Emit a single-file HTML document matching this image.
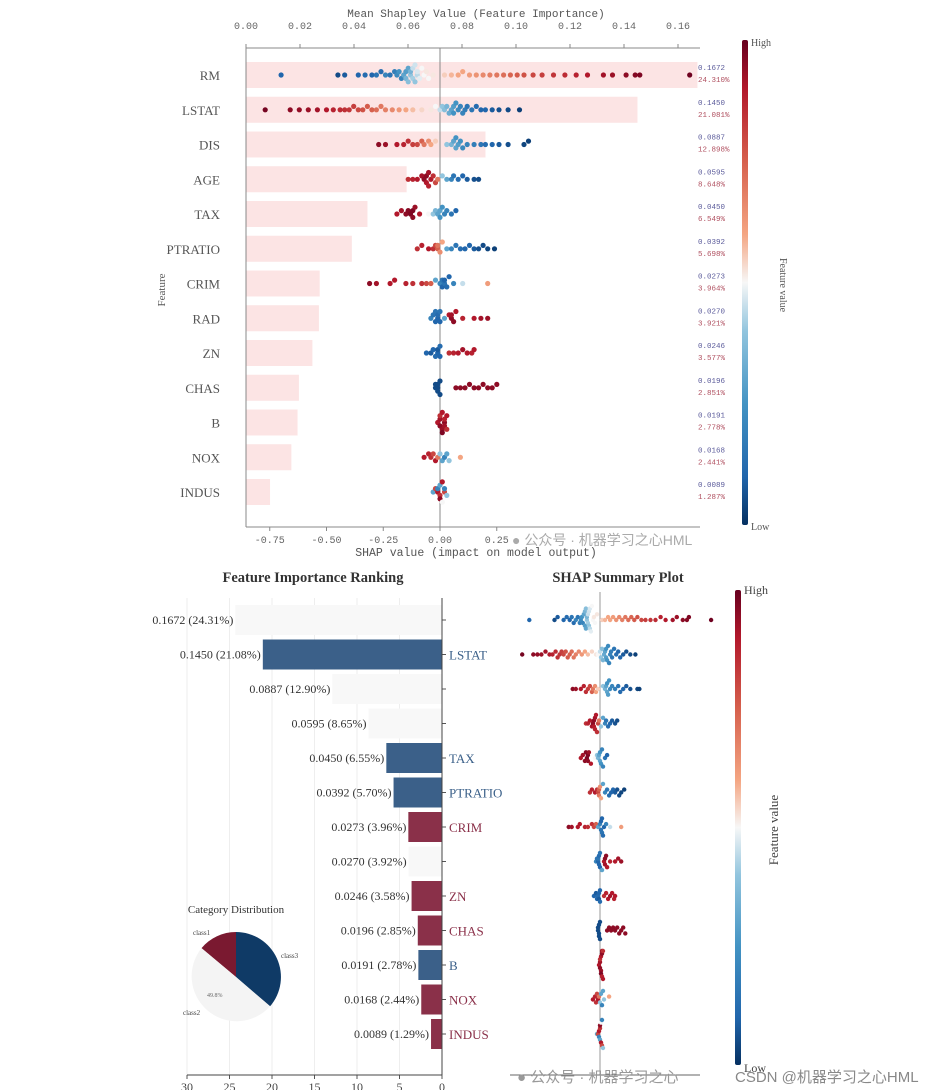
<!DOCTYPE html>
<html><head><meta charset="utf-8"><style>
html,body{margin:0;padding:0;background:#fff;}
svg{display:block;}
</style></head><body>
<svg id="c" width="931" height="1090" viewBox="0 0 931 1090" xmlns="http://www.w3.org/2000/svg">
<defs>
<linearGradient id="cb" x1="0" y1="0" x2="0" y2="1">
<stop offset="0" stop-color="#67001f"/><stop offset="0.1" stop-color="#b2182b"/><stop offset="0.25" stop-color="#d6604d"/><stop offset="0.4" stop-color="#f4a582"/><stop offset="0.5" stop-color="#f7f7f7"/><stop offset="0.6" stop-color="#92c5de"/><stop offset="0.75" stop-color="#4393c3"/><stop offset="0.9" stop-color="#2166ac"/><stop offset="1" stop-color="#053061"/>
</linearGradient>
</defs>
</svg>
<script>
const features = ["RM","LSTAT","DIS","AGE","TAX","PTRATIO","CRIM","RAD","ZN","CHAS","B","NOX","INDUS"];
const importance = [0.1672,0.1450,0.0887,0.0595,0.0450,0.0392,0.0273,0.0270,0.0246,0.0196,0.0191,0.0168,0.0089];
const percents = [24.31,21.08,12.90,8.65,6.55,5.70,3.96,3.92,3.58,2.85,2.78,2.44,1.29];
const pctLong = ["24.310%","21.081%","12.898%","8.648%","6.549%","5.698%","3.964%","3.921%","3.577%","2.851%","2.778%","2.441%","1.287%"];
const barColorClass = ["faint","blue","faint","faint","blue","blue","red","faint","red","red","blue","red","red"];
const topTicks = [0,0.02,0.04,0.06,0.08,0.10,0.12,0.14,0.16];
const shapTicks = [-0.75,-0.5,-0.25,0,0.25];
const rankTicks = [30,25,20,15,10,5,0];
const pieLabels = ["class1","class3","class2"];
const pieValues = [13.9,36.3,49.8];
const rmPts=[[-0.70,.1],[-0.45,.05],[-0.42,.08],[-0.36,.1],[-0.33,.12],[-0.3,.1],[-0.28,.15],[-0.26,.12],[-0.24,.2],[-0.22,.15],[-0.2,.18],[-0.19,.22],[-0.18,.25],[-0.17,.2],[-0.16,.3],[-0.15,.28],[-0.15,.35],[-0.14,.3],[-0.14,.38],[-0.13,.4],[-0.13,.35],[-0.12,.42],[-0.12,.45],[-0.11,.4],[-0.11,.46],[-0.1,.44],[-0.1,.47],[-0.09,.48],[-0.08,.5],[-0.07,.5],[-0.06,.52],[-0.05,.5],[-0.03,.52],[0.02,.55],[0.05,.58],[0.08,.6],[0.1,.6],[0.13,.62],[0.16,.64],[0.19,.66],[0.22,.68],[0.25,.7],[0.28,.72],[0.31,.74],[0.34,.76],[0.37,.78],[0.41,.8],[0.45,.82],[0.5,.84],[0.55,.86],[0.6,.88],[0.65,.9],[0.72,.92],[0.76,.93],[0.82,.95],[0.86,.96],[0.88,.97],[1.1,.99]];
const lstatPts=[[-0.77,.98],[-0.66,.95],[-0.62,.94],[-0.58,.93],[-0.54,.92],[-0.5,.9],[-0.47,.88],[-0.44,.86],[-0.42,.85],[-0.4,.84],[-0.38,.82],[-0.36,.8],[-0.34,.78],[-0.32,.76],[-0.3,.75],[-0.28,.72],[-0.26,.7],[-0.24,.68],[-0.21,.66],[-0.18,.63],[-0.15,.6],[-0.12,.57],[-0.08,.54],[-0.04,.52],[-0.02,.5],[0.0,.45],[0.01,.4],[0.02,.38],[0.03,.35],[0.04,.32],[0.05,.3],[0.06,.28],[0.06,.25],[0.07,.25],[0.08,.22],[0.09,.2],[0.1,.2],[0.11,.18],[0.12,.15],[0.14,.15],[0.16,.12],[0.18,.1],[0.2,.1],[0.23,.08],[0.26,.06],[0.3,.05],[0.35,.03]];
const disPts=[[-0.27,.95],[-0.24,.93],[-0.19,.9],[-0.16,.88],[-0.14,.85],[-0.12,.82],[-0.1,.8],[-0.08,.75],[-0.07,.7],[-0.05,.65],[-0.04,.6],[-0.02,.55],[0.03,.4],[0.05,.35],[0.06,.3],[0.07,.3],[0.07,.25],[0.08,.28],[0.09,.25],[0.1,.22],[0.12,.2],[0.15,.18],[0.18,.15],[0.2,.12],[0.23,.1],[0.26,.08],[0.3,.06],[0.37,.04],[0.39,.03]];
const agePts=[[-0.14,.85],[-0.12,.88],[-0.1,.9],[-0.08,.92],[-0.07,.95],[-0.06,.95],[-0.06,.9],[-0.05,.92],[-0.05,.88],[-0.04,.9],[-0.03,.85],[-0.02,.8],[-0.01,.7],[0.01,.4],[0.03,.3],[0.05,.2],[0.06,.15],[0.08,.12],[0.1,.1],[0.12,.08],[0.15,.06],[0.17,.05]];
const taxPts=[[-0.19,.9],[-0.17,.92],[-0.15,.95],[-0.14,.96],[-0.13,.97],[-0.12,.97],[-0.12,.95],[-0.11,.93],[-0.09,.9],[-0.05,.5],[-0.03,.4],[-0.02,.35],[-0.01,.3],[0.0,.3],[0.0,.25],[0.01,.25],[0.02,.2],[0.03,.2],[0.05,.15],[0.07,.1]];
const ptPts=[[-0.1,.85],[-0.08,.88],[-0.05,.9],[-0.03,.85],[-0.02,.8],[-0.01,.75],[-0.01,.7],[0.0,.65],[0.01,.6],[0.03,.3],[0.05,.2],[0.07,.15],[0.09,.12],[0.11,.1],[0.13,.1],[0.15,.08],[0.17,.06],[0.19,.05],[0.21,.04],[0.24,.03]];
const crimPts=[[-0.31,.95],[-0.28,.92],[-0.22,.9],[-0.2,.9],[-0.15,.88],[-0.12,.85],[-0.08,.85],[-0.06,.8],[-0.04,.75],[-0.02,.3],[0.0,.2],[0.01,.15],[0.01,.1],[0.02,.15],[0.02,.1],[0.03,.12],[0.04,.1],[0.06,.2],[0.1,.45],[0.21,.62]];
const radPts=[[-0.04,.2],[-0.03,.15],[-0.02,.1],[-0.02,.15],[-0.01,.1],[-0.01,.12],[0.0,.1],[0.0,.15],[0.02,.3],[0.04,.9],[0.05,.95],[0.05,.92],[0.06,.95],[0.07,.9],[0.1,.88],[0.15,.9],[0.18,.92],[0.21,.93]];
const znPts=[[-0.06,.1],[-0.04,.08],[-0.03,.1],[-0.02,.12],[-0.01,.1],[-0.01,.08],[0.0,.1],[0.0,.12],[0.04,.85],[0.06,.88],[0.08,.9],[0.1,.92],[0.12,.9],[0.14,.88],[0.15,.9]];
const chasPts=[[-0.02,.05],[-0.02,.05],[-0.01,.05],[-0.01,.05],[-0.01,.05],[0.0,.05],[0.0,.05],[0.07,.95],[0.09,.95],[0.11,.95],[0.13,.95],[0.15,.95],[0.17,.95],[0.19,.95],[0.21,.95],[0.23,.95],[0.25,.95]];
const bPts=[[-0.01,.9],[0.0,.92],[0.0,.95],[0.01,.93],[0.01,.9],[0.02,.95],[0.02,.88],[0.03,.9],[0.03,.85],[0.01,.97],[0.0,.85],[0.02,.92]];
const noxPts=[[-0.07,.9],[-0.05,.88],[-0.04,.85],[-0.03,.8],[-0.02,.9],[-0.01,.7],[0.0,.4],[0.01,.3],[0.02,.2],[0.03,.3],[0.04,.4],[0.09,.6]];
const indusPts=[[-0.03,.3],[-0.02,.8],[-0.01,.9],[-0.01,.2],[0.0,.85],[0.0,.3],[0.01,.9],[0.01,.5],[0.02,.8],[0.02,.2],[0.03,.4],[0.0,.95]];
const allPts=[rmPts,lstatPts,disPts,agePts,taxPts,ptPts,crimPts,radPts,znPts,chasPts,bPts,noxPts,indusPts];

const svg=document.getElementById('c');
const NS='http://www.w3.org/2000/svg';
function mk(tag,attrs,parent,txt){const e=document.createElementNS(NS,tag);for(const k in attrs)e.setAttribute(k,attrs[k]);if(txt!==undefined)e.textContent=txt;(parent||svg).appendChild(e);return e;}
const stops=[[0,[5,48,97]],[0.1,[33,102,172]],[0.25,[67,147,195]],[0.4,[146,197,222]],[0.5,[247,247,247]],[0.6,[244,165,130]],[0.75,[214,96,77]],[0.9,[178,24,43]],[1,[103,0,31]]];
function cmap(v){for(let i=1;i<stops.length;i++){if(v<=stops[i][0]){const a=stops[i-1],b=stops[i];const t=(v-a[0])/(b[0]-a[0]);const c=a[1].map((x,j)=>Math.round(x+(b[1][j]-x)*t));return 'rgb('+c.join(',')+')';}}return 'rgb(103,0,31)';}
function swarm(g,pts,xf,yc,r,name){
  const bins={};
  const sorted=pts.slice().sort((a,b)=>a[0]-b[0]);
  sorted.forEach(p=>{const x=xf(p[0]);const b=Math.round(x/(r*2.6));bins[b]=(bins[b]||0)+1;const k=bins[b]-1;const off=(k%2?-1:1)*Math.ceil(k/2)*r*1.3;
    const c=mk('circle',{cx:x.toFixed(1),cy:(yc+Math.max(-14,Math.min(14,off))).toFixed(1),r:r,fill:cmap(p[1])},g);
    
    });
}

// ===== TOP CHART =====
const T={l:246,r:700,top:48,bot:527,y0:75,dy:34.75};
const xImp=v=>T.l+v*2700;
const xShapTop=s=>440+s*227;
const gTop=mk('g',{});


features.forEach((f,i)=>{const y=T.y0+i*T.dy;
  const b=mk('rect',{x:T.l,y:y-13,width:xImp(importance[i])-T.l,height:26,fill:'#fce4e4'},gTop);
  
  
  const t=mk('text',{x:220,y:y+5,'text-anchor':'end','font-family':'Liberation Serif, serif','font-size':13,fill:'#555'},gTop,f);
  
  
  const v1=mk('text',{x:698,y:y-5,'font-family':'Liberation Mono, monospace','font-size':7.5,fill:'#5a5a9a'},gTop,importance[i].toFixed(4));
  
  
  const v2=mk('text',{x:698,y:y+7,'font-family':'Liberation Mono, monospace','font-size':7.5,fill:'#b05060'},gTop,pctLong[i]);
  
  
});
mk('line',{x1:440,y1:T.top,x2:440,y2:T.bot,stroke:'#888','stroke-width':1},gTop);
features.forEach((f,i)=>swarm(gTop,allPts[i],xShapTop,T.y0+i*T.dy,2.6,'top-shap-'+f.toLowerCase()));
mk('line',{x1:T.l,y1:T.top,x2:T.l,y2:T.bot,stroke:'#888'},gTop);
mk('line',{x1:T.l,y1:T.top,x2:T.r,y2:T.top,stroke:'#888'},gTop);
mk('line',{x1:T.l,y1:T.bot,x2:T.r,y2:T.bot,stroke:'#888'},gTop);
topTicks.forEach(v=>{const x=xImp(v);mk('line',{x1:x,y1:T.top,x2:x,y2:T.top-4,stroke:'#888'},gTop);
  const t=mk('text',{x:x,y:T.top-19,'text-anchor':'middle','font-family':'Liberation Mono, monospace','font-size':10,fill:'#666'},gTop,v.toFixed(2));
  
  });
shapTicks.forEach(v=>{const x=xShapTop(v);mk('line',{x1:x,y1:T.bot,x2:x,y2:T.bot+4,stroke:'#888'},gTop);
  const t=mk('text',{x:x,y:T.bot+16,'text-anchor':'middle','font-family':'Liberation Mono, monospace','font-size':10,fill:'#666'},gTop,v.toFixed(2));
  
  });
let t1=mk('text',{x:476,y:17,'text-anchor':'middle','font-family':'Liberation Mono, monospace','font-size':11,fill:'#555'},gTop,'Mean Shapley Value (Feature Importance)');

let t2=mk('text',{x:476,y:556,'text-anchor':'middle','font-family':'Liberation Mono, monospace','font-size':11.5,fill:'#555'},gTop,'SHAP value (impact on model output)');

let t3=mk('text',{x:0,y:0,transform:'translate(165,290) rotate(-90)','text-anchor':'middle','font-family':'Liberation Serif, serif','font-size':11,fill:'#555'},gTop,'Feature');

let cb1=mk('rect',{x:742,y:40,width:6,height:485,fill:'url(#cb)',rx:2},gTop);

mk('text',{x:751,y:46,'font-family':'Liberation Serif, serif','font-size':10,fill:'#555'},gTop,'High');
mk('text',{x:751,y:530,'font-family':'Liberation Serif, serif','font-size':10,fill:'#555'},gTop,'Low');
mk('text',{x:0,y:0,transform:'translate(780,285) rotate(90)','text-anchor':'middle','font-family':'Liberation Serif, serif','font-size':10,fill:'#555'},gTop,'Feature value');

// ===== BOTTOM LEFT RANKING =====
const B={y0:620,dy:34.5,ax:442,bot:1075};
const xRank=p=>B.ax-p*8.5;
const colors={blue:'#3b6089',red:'#8a3049',faint:'#f8f8f8'};
const gL=mk('g',{});


rankTicks.forEach(v=>{const x=xRank(v);mk('line',{x1:x,y1:598,x2:x,y2:B.bot,stroke:'#eee'},gL);
  mk('line',{x1:x,y1:B.bot,x2:x,y2:B.bot+4,stroke:'#555'},gL);
  const t=mk('text',{x:x,y:B.bot+16,'text-anchor':'middle','font-family':'Liberation Serif, serif','font-size':12,fill:'#444'},gL,String(v));
  });
features.forEach((f,i)=>{const y=B.y0+i*B.dy;const c=barColorClass[i];
  const b=mk('rect',{x:xRank(percents[i]),y:y-15,width:percents[i]*8.5,height:30,fill:colors[c]},gL);
  
  const t=mk('text',{x:xRank(percents[i])-2,y:y+4,'text-anchor':'end','font-family':'Liberation Serif, serif','font-size':12,fill:'#333'},gL,importance[i].toFixed(4)+' ('+percents[i].toFixed(2)+'%)');
  
  mk('line',{x1:B.ax,y1:y,x2:B.ax+4,y2:y,stroke:'#555'},gL);
  if(c!=='faint'){const l=mk('text',{x:B.ax+7,y:y+5,'font-family':'Liberation Serif, serif','font-size':13,fill:colors[c]},gL,f);
    }
});
mk('line',{x1:B.ax,y1:598,x2:B.ax,y2:B.bot,stroke:'#444'},gL);
mk('line',{x1:187,y1:B.bot,x2:B.ax,y2:B.bot,stroke:'#444'},gL);
let tt=mk('text',{x:313,y:582,'text-anchor':'middle','font-family':'Liberation Serif, serif','font-size':14.5,'font-weight':'bold',fill:'#333'},gL,'Feature Importance Ranking');

// pie
const gP=mk('g',{});


const pcx=236,pcy=977,pr=45;
const pieCols=['#7a1930','#0f3a66','#f4f4f4'];
const tot=pieValues.reduce((a,b)=>a+b,0);
let ang=-Math.PI/2-pieValues[0]/tot*2*Math.PI;
pieValues.forEach((v,i)=>{const a2=ang+v/tot*2*Math.PI;const large=(a2-ang)>Math.PI?1:0;
  const d='M'+pcx+','+pcy+' L'+(pcx+pr*Math.cos(ang)).toFixed(1)+','+(pcy+pr*Math.sin(ang)).toFixed(1)+' A'+pr+','+pr+' 0 '+large+' 1 '+(pcx+pr*Math.cos(a2)).toFixed(1)+','+(pcy+pr*Math.sin(a2)).toFixed(1)+' Z';
  const p=mk('path',{d:d,fill:pieCols[i]},gP);
  
  ang=a2;});
mk('text',{x:236,y:913,'text-anchor':'middle','font-family':'Liberation Serif, serif','font-size':11,fill:'#333'},gP,'Category Distribution');
mk('text',{x:193,y:935,'font-family':'Liberation Serif, serif','font-size':7,fill:'#444'},gP,'class1');
mk('text',{x:281,y:958,'font-family':'Liberation Serif, serif','font-size':7,fill:'#444'},gP,'class3');
mk('text',{x:183,y:1015,'font-family':'Liberation Serif, serif','font-size':7,fill:'#444'},gP,'class2');
mk('text',{x:207,y:997,'font-family':'Liberation Serif, serif','font-size':6,fill:'#666'},gP,'49.8%');

// ===== BOTTOM RIGHT SHAP SUMMARY =====
const xShapB=s=>600+s*101;
const gR=mk('g',{});


mk('line',{x1:600,y1:592,x2:600,y2:B.bot,stroke:'#999'},gR);
features.forEach((f,i)=>swarm(gR,allPts[i],xShapB,B.y0+i*B.dy,2.2,'summary-shap-'+f.toLowerCase()));
mk('line',{x1:510,y1:B.bot,x2:700,y2:B.bot,stroke:'#666'},gR);
let st=mk('text',{x:618,y:582,'text-anchor':'middle','font-family':'Liberation Serif, serif','font-size':14.5,'font-weight':'bold',fill:'#333'},gR,'SHAP Summary Plot');

let cb2=mk('rect',{x:735,y:590,width:6,height:475,fill:'url(#cb)',rx:2},gR);

mk('text',{x:744,y:594,'font-family':'Liberation Serif, serif','font-size':12,fill:'#444'},gR,'High');
mk('text',{x:744,y:1072,'font-family':'Liberation Serif, serif','font-size':12,fill:'#444'},gR,'Low');
mk('text',{x:0,y:0,transform:'translate(778,830) rotate(-90)','text-anchor':'middle','font-family':'Liberation Serif, serif','font-size':13,fill:'#444'},gR,'Feature value');

// watermarks
mk('text',{x:512,y:545,'font-family':'Liberation Sans, Noto Sans CJK SC, sans-serif','font-size':14,fill:'#aaa'},svg,'\u25CF 公众号 · 机器学习之心HML');
mk('text',{x:517,y:1082,'font-family':'Liberation Sans, Noto Sans CJK SC, sans-serif','font-size':15,fill:'#999'},svg,'\u25CF 公众号 · 机器学习之心');
mk('text',{x:735,y:1082,'font-family':'Liberation Sans, Noto Sans CJK SC, sans-serif','font-size':15,fill:'#888'},svg,'CSDN @机器学习之心HML');
</script>
</body></html>
